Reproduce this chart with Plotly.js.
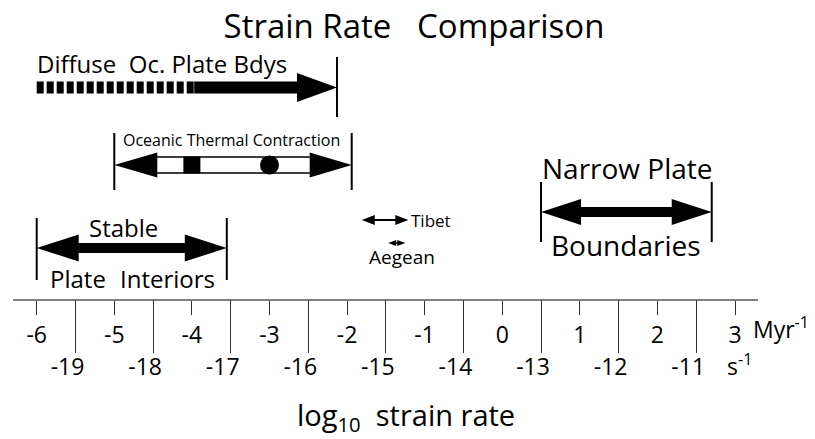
<!DOCTYPE html>
<html>
<head>
<meta charset="utf-8">
<script src="https://cdn.plot.ly/plotly-3.0.1.min.js"></script>
<style>html,body{margin:0;padding:0;background:#fff;}#chart{width:815px;height:439px;}</style>
</head>
<body>
<div id="chart"></div>
<script>
// ---------------- DATA ----------------
const categories = ['Diffuse Oc. Plate Bdys', 'Oceanic Thermal Contraction', 'Stable Plate Interiors', 'Narrow Plate Boundaries', 'Tibet', 'Aegean'];
const rangeStart = [-6.0, -5.0, -6.0, 0.5, -1.81, -1.47];   // log10 strain rate, Myr^-1
const rangeEnd   = [-2.13, -1.94, -3.55, 2.7, -1.21, -1.25];
const diffuseDashedEnd = -3.97;                              // dashed part of diffuse boundaries
const thermalSquare = [-4.0];
const thermalCircle = [-3.0];
const myrTicks = [-6, -5, -4, -3, -2, -1, 0, 1, 2, 3];
const myrTickText = ['-6', '-5', '-4', '-3', '-2', '-1', '0', '1', '2', '3'];
const secTicks = [-19, -18, -17, -16, -15, -14, -13, -12, -11];
const secTickText = ['-19', '-18', '-17', '-16', '-15', '-14', '-13', '-12', '-11'];
const secOffset = 13.5; // log10(seconds per Myr)

// ---------------- LAYOUT / STYLE ----------------
const W = 815, H = 439;
const M = {l: 13, r: 57, t: 0, b: 140};
const xr = [-6.3055, 3.2964];
const plotW = W - M.l - M.r, plotH = H - M.t - M.b;
const pxPerUnit = plotW / (xr[1] - xr[0]);
const px = p => p / pxPerUnit;
const FONT = 'Open Sans, Noto Sans, sans-serif';

// row vertical positions (yaxis is in pixel units from top of plot)
const rowY = [87.5, 165, 248, 212, 220, 243];

function arrowPoly(x0, x1, yc, shaftHalf, headHalf, headLenPx, left, right) {
  const hl = px(headLenPx);
  const xs = [], ys = [];
  if (left) {
    xs.push(x0, x0 + hl, x0 + hl); ys.push(yc, yc - headHalf, yc - shaftHalf);
  } else {
    xs.push(x0, x0); ys.push(yc + shaftHalf, yc - shaftHalf);
  }
  if (right) {
    xs.push(x1 - hl, x1 - hl, x1, x1 - hl, x1 - hl); ys.push(yc - shaftHalf, yc - headHalf, yc, yc + headHalf, yc + shaftHalf);
  } else {
    xs.push(x1, x1); ys.push(yc - shaftHalf, yc + shaftHalf);
  }
  if (left) {
    xs.push(x0 + hl, x0 + hl, x0); ys.push(yc + shaftHalf, yc + headHalf, yc);
  } else {
    xs.push(x0); ys.push(yc + shaftHalf);
  }
  return {x: xs, y: ys};
}
function polyTrace(p) {
  return {type: 'scatter', mode: 'lines', x: p.x, y: p.y, fill: 'toself', fillcolor: '#000',
          line: {width: 0, color: '#000'}, hoverinfo: 'skip', showlegend: false, xaxis: 'x', yaxis: 'y'};
}

const traces = [];
// Diffuse: dashed part
traces.push({type: 'scatter', mode: 'lines', x: [rangeStart[0], diffuseDashedEnd], y: [rowY[0], rowY[0]],
  line: {color: '#000', width: 12, dash: '7px,3px'}, hoverinfo: 'skip', showlegend: false});
// Diffuse: solid arrow
traces.push(polyTrace(arrowPoly(diffuseDashedEnd, rangeEnd[0], rowY[0], 6, 14.5, 40, false, true)));
// Thermal contraction heads
traces.push(polyTrace(arrowPoly(rangeStart[1], rangeStart[1] + px(43), rowY[1], 0, 12.5, 43, true, false)));
traces.push(polyTrace(arrowPoly(rangeEnd[1] - px(42), rangeEnd[1], rowY[1], 0, 12.5, 42, false, true)));
// Thermal contraction open shaft
traces.push({type: 'scatter', mode: 'lines',
  x: [rangeStart[1] + px(42), rangeEnd[1] - px(41), null, rangeStart[1] + px(42), rangeEnd[1] - px(41)],
  y: [rowY[1] - 8, rowY[1] - 8, null, rowY[1] + 8, rowY[1] + 8],
  line: {color: '#000', width: 1.6}, hoverinfo: 'skip', showlegend: false});
// Thermal markers
traces.push({type: 'scatter', mode: 'markers', x: thermalSquare, y: thermalSquare.map(() => rowY[1]),
  marker: {symbol: 'square', size: 17, color: '#000'}, hoverinfo: 'skip', showlegend: false});
traces.push({type: 'scatter', mode: 'markers', x: thermalCircle, y: thermalCircle.map(() => rowY[1]),
  marker: {symbol: 'circle', size: 19, color: '#000'}, hoverinfo: 'skip', showlegend: false});
// Stable plate interiors
traces.push(polyTrace(arrowPoly(rangeStart[2], rangeEnd[2], rowY[2], 5, 13.5, 42, true, true)));
// Narrow plate boundaries
traces.push(polyTrace(arrowPoly(rangeStart[3], rangeEnd[3], rowY[3], 5, 13, 40, true, true)));
// Tibet
traces.push(polyTrace(arrowPoly(rangeStart[4], rangeEnd[4], rowY[4], 1, 5, 13, true, true)));
// Aegean
traces.push(polyTrace(arrowPoly(rangeStart[5], rangeEnd[5], rowY[5], 0.8, 3, 8, true, true)));

// end bars
const bars = [
  [rangeEnd[0], 57, 117],
  [rangeStart[1], 133, 190], [rangeEnd[1], 133, 190],
  [rangeStart[2], 218, 280], [rangeEnd[2], 218, 280],
  [rangeStart[3], 182, 242], [rangeEnd[3], 182, 242]
];
const bx = [], by = [];
bars.forEach(b => { bx.push(b[0], b[0], null); by.push(b[1], b[2], null); });
traces.push({type: 'scatter', mode: 'lines', x: bx, y: by, line: {color: '#000', width: 2},
  hoverinfo: 'skip', showlegend: false});

// seconds-axis dummy trace to activate xaxis2
traces.push({type: 'scatter', mode: 'markers', x: [secTicks[0]], y: [-100], xaxis: 'x2', yaxis: 'y',
  marker: {opacity: 0}, hoverinfo: 'skip', showlegend: false});

function ann(text, x, y, size, xanchor) {
  return {text: text, x: x, y: y, xref: 'x', yref: 'y', showarrow: false, xanchor: xanchor || 'center',
          yanchor: 'middle', font: {family: FONT, size: size, color: '#000'}};
}
const annotations = [
  ann('Diffuse\u00a0\u00a0Oc. Plate Bdys', rangeStart[0] - px(2), 63, 24, 'left'),
  ann('Oceanic Thermal Contraction', -3.49, 140, 16),
  ann('Stable', -4.875, 227, 24),
  ann('Plate', -5.47, 278, 24),
  ann('Interiors', -4.32, 278, 24),
  ann('Narrow Plate', 1.61, 168, 28),
  ann('Boundaries', 1.60, 245, 28),
  ann('Tibet', rangeEnd[4] + px(1), 220, 17, 'left'),
  ann('Aegean', -1.29, 257, 19),
  {text: 'Myr<sup>-1</sup>', xref: 'paper', yref: 'paper', x: (751 - M.l) / plotW, y: -(328 - plotH - M.t) / plotH,
   xanchor: 'left', yanchor: 'middle', showarrow: false, font: {family: FONT, size: 23, color: '#000'}},
  {text: 's<sup>-1</sup>', xref: 'paper', yref: 'paper', x: (725 - M.l) / plotW, y: -(365 - plotH - M.t) / plotH,
   xanchor: 'left', yanchor: 'middle', showarrow: false, font: {family: FONT, size: 23, color: '#000'}},
  {text: 'log<sub>10</sub>\u00a0\u00a0strain rate', xref: 'paper', yref: 'paper', x: (406 - M.l) / plotW, y: -(416 - plotH - M.t) / plotH,
   xanchor: 'center', yanchor: 'middle', showarrow: false, font: {family: FONT, size: 29, color: '#000'}}
];

const layout = {
  width: W, height: H, margin: M, paper_bgcolor: '#fff', plot_bgcolor: '#fff',
  showlegend: false, hovermode: false,
  font: {family: FONT, color: '#000'},
  title: {text: 'Strain Rate\u00a0\u00a0\u00a0Comparison', x: 414 / W, xanchor: 'center', xref: 'container',
          y: 1 - 26 / H, yanchor: 'middle', yref: 'container', font: {family: FONT, size: 33, color: '#000'}},
  xaxis: {range: xr, showgrid: false, zeroline: false, showline: true, linecolor: '#808080', linewidth: 2,
          ticks: 'outside', ticklen: 14, tickwidth: 1, tickcolor: '#333', tickmode: 'array',
          tickvals: myrTicks, ticktext: myrTickText, tickfont: {family: FONT, size: 23, color: '#000'},
          fixedrange: true},
  xaxis2: {range: [xr[0] - secOffset, xr[1] - secOffset], overlaying: 'x', anchor: 'y', side: 'bottom',
          showgrid: false, zeroline: false, showline: false, ticks: 'outside', ticklen: 53, tickwidth: 1,
          tickcolor: '#333', tickmode: 'array', tickvals: secTicks, ticktext: secTickText,
          tickfont: {family: FONT, size: 23, color: '#000'}, ticklabelshift: -8, ticklabelstandoff: -6,
          fixedrange: true},
  yaxis: {range: [plotH, 0], visible: false, showgrid: false, zeroline: false, fixedrange: true},
  annotations: annotations
};

Plotly.newPlot('chart', traces, layout, {displayModeBar: false, staticPlot: true});
</script>
</body>
</html>
